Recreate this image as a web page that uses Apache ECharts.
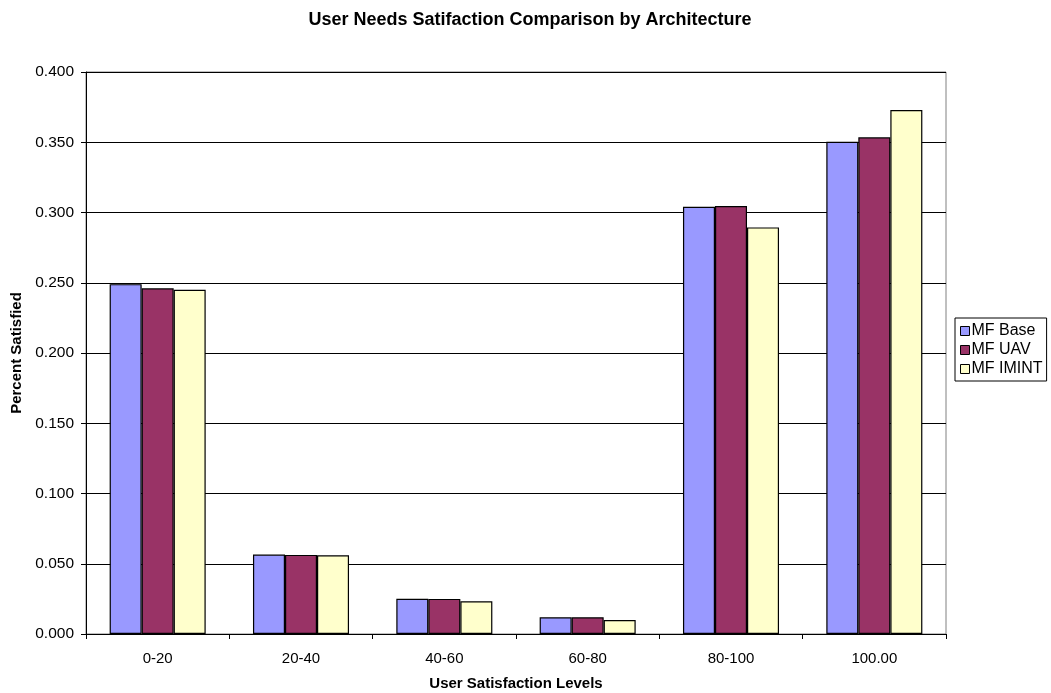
<!DOCTYPE html>
<html>
<head>
<meta charset="utf-8">
<script src="https://cdn.jsdelivr.net/npm/echarts@6/dist/echarts.min.js"></script>
<style>
  html, body { margin: 0; padding: 0; background: #fff; }
  #chart { width: 1051px; height: 693px; }
</style>
</head>
<body>
<div id="chart"></div>
<script>
// Satisfaction level buckets
const categories = ['0-20', '20-40', '40-60', '60-80', '80-100', '100.00'];

// Share of users in each bucket, per architecture
const mfBase  = [0.249, 0.0565, 0.0251, 0.0119, 0.3041, 0.3504];
const mfUav   = [0.246, 0.0563, 0.0250, 0.0119, 0.3046, 0.3535];
const mfImint = [0.245, 0.0560, 0.0233, 0.0100, 0.2894, 0.3730];

const seriesNames = ['MF Base', 'MF UAV', 'MF IMINT'];
const seriesColors = ['#9999FF', '#993366', '#FFFFCC'];

const FONT = 'Liberation Sans, Arial, sans-serif';

const chart = echarts.init(document.getElementById('chart'), null, { renderer: 'canvas' });

const makeBar = (name, data, color) => ({
  name,
  type: 'bar',
  data,
  barGap: '0%',
  barCategoryGap: '33%',
  itemStyle: { color, borderColor: '#000', borderWidth: 1.2 },
  emphasis: { disabled: true }
});

chart.setOption({
  animation: false,
  backgroundColor: '#fff',
  title: {
    text: 'User Needs Satifaction Comparison by Architecture',
    left: 525,
    textAlign: 'center',
    top: 6,
    textStyle: { fontFamily: FONT, fontSize: 18, fontWeight: 'bold', color: '#000' }
  },
  legend: {
    orient: 'vertical',
    left: 955,
    top: 318,
    padding: [5, 4, 4, 5],
    itemGap: 3,
    itemWidth: 9,
    itemHeight: 9,
    icon: 'rect',
    borderColor: '#000',
    borderWidth: 1,
    borderRadius: 0,
    textStyle: { fontFamily: FONT, fontSize: 16, color: '#000', padding: [0, 0, 0, -3] },
    itemStyle: { borderColor: '#000', borderWidth: 1 },
    data: seriesNames
  },
  grid: {
    left: 86,
    right: 105,
    top: 72,
    bottom: 59,
    show: true,
    borderColor: '#808080',
    borderWidth: 1,
    outerBoundsMode: 'none',
    containLabel: false
  },
  xAxis: {
    type: 'category',
    data: categories,
    name: 'User Satisfaction Levels',
    nameLocation: 'middle',
    nameGap: 42,
    nameTextStyle: { fontFamily: FONT, fontSize: 15, fontWeight: 'bold', color: '#000' },
    axisLine: { lineStyle: { color: '#000', width: 1 } },
    axisTick: { show: true, length: 5, alignWithLabel: false, lineStyle: { color: '#000' } },
    axisLabel: { fontFamily: FONT, fontSize: 15, color: '#000', margin: 17 },
    splitLine: { show: false }
  },
  yAxis: {
    type: 'value',
    min: 0,
    max: 0.4,
    interval: 0.05,
    name: 'Percent Satisfied',
    nameLocation: 'middle',
    nameGap: 61,
    nameRotate: 90,
    nameTextStyle: { fontFamily: FONT, fontSize: 15, fontWeight: 'bold', color: '#000' },
    axisLine: { show: true, lineStyle: { color: '#000', width: 1 } },
    axisTick: { show: true, length: 5, lineStyle: { color: '#000' } },
    axisLabel: {
      fontFamily: FONT, fontSize: 15.5, color: '#000', margin: 12,
      formatter: v => v.toFixed(3)
    },
    splitLine: { show: true, lineStyle: { color: '#000', width: 1 } }
  },
  series: [
    makeBar(seriesNames[0], mfBase, seriesColors[0]),
    makeBar(seriesNames[1], mfUav, seriesColors[1]),
    makeBar(seriesNames[2], mfImint, seriesColors[2])
  ]
});
</script>
</body>
</html>
